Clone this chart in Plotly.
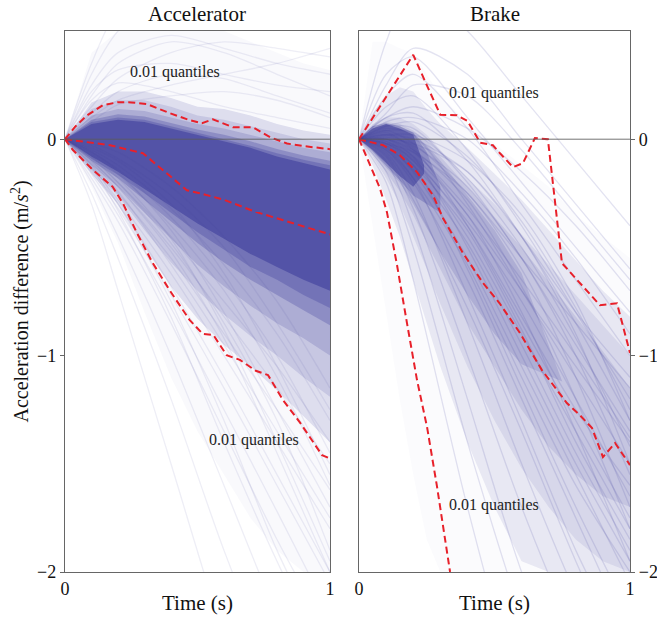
import plotly.graph_objects as go

FONT = "Liberation Serif"
BLUE = "70,70,160"
RED = "#e8202a"

# ---------------- red quantile / median curves -------------
ACC_HI_T = [0, 0.04, 0.083, 0.143, 0.2, 0.25, 0.31, 0.396, 0.47, 0.517, 0.558, 0.634, 0.709, 0.774, 0.838, 0.9, 1.0]
ACC_HI_Y = [0, 0.06, 0.11, 0.157, 0.171, 0.17, 0.162, 0.12, 0.088, 0.074, 0.092, 0.055, 0.055, 0.009, -0.02, -0.032, -0.046]
ACC_MED_T = [0, 0.057, 0.17, 0.294, 0.385, 0.46, 0.51, 0.6, 0.72, 0.85, 1.0]
ACC_MED_Y = [0, -0.009, -0.028, -0.065, -0.157, -0.236, -0.25, -0.28, -0.336, -0.383, -0.44]
ACC_LO_T = [0, 0.03, 0.106, 0.18, 0.22, 0.27, 0.33, 0.396, 0.47, 0.52, 0.56, 0.61, 0.66, 0.72, 0.766, 0.823, 0.887, 0.936, 0.97, 1.0]
ACC_LO_Y = [0, -0.05, -0.143, -0.22, -0.3, -0.43, -0.57, -0.70, -0.835, -0.9, -0.905, -0.998, -1.02, -1.07, -1.09, -1.206, -1.31, -1.40, -1.46, -1.475]

BRK_HI_T = [0, 0.2, 0.25, 0.3, 0.36, 0.4, 0.447, 0.494, 0.52, 0.568, 0.605, 0.649, 0.697, 0.749, 0.889, 0.952, 1.0]
BRK_HI_Y = [0, 0.39, 0.25, 0.113, 0.111, 0.085, -0.016, -0.028, -0.065, -0.129, -0.111, 0.005, 0.0, -0.573, -0.767, -0.758, -0.988]
BRK_MED_T = [0, 0.089, 0.151, 0.214, 0.273, 0.31, 0.384, 0.458, 0.518, 0.594, 0.675, 0.767, 0.815, 0.86, 0.9, 0.945, 1.0]
BRK_MED_Y = [0, -0.028, -0.074, -0.152, -0.259, -0.365, -0.527, -0.665, -0.757, -0.896, -1.067, -1.219, -1.275, -1.335, -1.469, -1.404, -1.506]
BRK_LO_T = [0, 0.04, 0.077, 0.103, 0.14, 0.177, 0.214, 0.251, 0.288, 0.336]
BRK_LO_Y = [0, -0.12, -0.226, -0.337, -0.58, -0.85, -1.113, -1.33, -1.607, -2.0]

# ---------------- density bands of the trajectory cloud (hi / lo envelopes) ----
ACC_T = [0, 0.1, 0.2, 0.3, 0.4, 0.5, 0.6, 0.7, 0.8, 0.9, 1.0]
ACC_BANDS = [  # (upper, lower, opacity)
    ([0, 0.40, 0.50, 0.50, 0.50, 0.50, 0.50, 0.45, 0.40, 0.35, 0.32],
     [0, -0.22, -0.48, -0.80, -1.10, -1.35, -1.55, -1.75, -1.90, -2.00, -2.00], 0.03),
    ([0, 0.17, 0.22, 0.22, 0.19, 0.15, 0.14, 0.11, 0.07, 0.04, 0.02],
     [0, -0.16, -0.30, -0.50, -0.68, -0.83, -0.95, -1.05, -1.16, -1.28, -1.40], 0.15),
    ([0, 0.14, 0.18, 0.18, 0.15, 0.11, 0.09, 0.06, 0.03, 0.00, -0.02],
     [0, -0.14, -0.26, -0.42, -0.57, -0.70, -0.81, -0.91, -1.00, -1.10, -1.19], 0.15),
    ([0, 0.11, 0.14, 0.13, 0.10, 0.07, 0.05, 0.02, -0.01, -0.04, -0.06],
     [0, -0.12, -0.22, -0.34, -0.46, -0.58, -0.68, -0.77, -0.85, -0.92, -1.00], 0.2),
    ([0, 0.09, 0.115, 0.105, 0.075, 0.045, 0.02, -0.01, -0.045, -0.075, -0.10],
     [0, -0.10, -0.18, -0.28, -0.38, -0.48, -0.57, -0.65, -0.72, -0.79, -0.86], 0.3),
    ([0, 0.08, 0.10, 0.09, 0.06, 0.03, 0.00, -0.03, -0.065, -0.095, -0.12],
     [0, -0.09, -0.165, -0.25, -0.34, -0.43, -0.51, -0.59, -0.65, -0.72, -0.78], 0.35),
    ([0, 0.07, 0.09, 0.08, 0.05, 0.02, -0.01, -0.04, -0.08, -0.11, -0.14],
     [0, -0.08, -0.15, -0.23, -0.31, -0.39, -0.46, -0.53, -0.59, -0.65, -0.70], 0.7),
]

BRK_BANDS = [  # (times, upper, lower, opacity)
    ([0, 0.05, 0.1, 0.15, 0.2, 0.25, 0.3, 0.4, 0.5, 0.6, 0.7, 0.8, 0.9, 1.0],
     [0, 0.45, 0.45, 0.42, 0.40, 0.30, 0.20, 0.08, -0.02, -0.12, -0.22, -0.35, -0.45, -0.55],
     [0, -0.40, -0.80, -1.20, -1.55, -1.85, -2.00, -2.00, -2.00, -2.00, -2.00, -2.00, -2.00, -2.00], 0.025),
    ([0, 0.05, 0.1, 0.15, 0.2, 0.25, 0.3, 0.4, 0.5, 0.6, 0.7, 0.8, 0.9, 1.0],
     [0, 0.12, 0.20, 0.24, 0.22, 0.14, 0.07, -0.04, -0.16, -0.28, -0.42, -0.56, -0.70, -0.82],
     [0, -0.12, -0.28, -0.45, -0.65, -0.85, -1.05, -1.40, -1.70, -1.95, -2.00, -2.00, -2.00, -2.00], 0.10),
    ([0, 0.05, 0.1, 0.15, 0.2, 0.25, 0.3, 0.4, 0.5, 0.6, 0.7, 0.8, 0.9, 1.0],
     [0, 0.07, 0.10, 0.10, 0.07, 0.02, -0.05, -0.18, -0.30, -0.44, -0.58, -0.72, -0.86, -1.00],
     [0, -0.08, -0.18, -0.30, -0.45, -0.60, -0.76, -1.05, -1.30, -1.52, -1.70, -1.85, -1.95, -2.00], 0.10),
    ([0, 0.05, 0.1, 0.15, 0.2, 0.25, 0.3, 0.4, 0.5, 0.6, 0.7, 0.8, 0.9, 1.0],
     [0, 0.06, 0.08, 0.07, 0.04, -0.01, -0.08, -0.22, -0.36, -0.50, -0.66, -0.82, -0.98, -1.15],
     [0, -0.07, -0.15, -0.24, -0.35, -0.48, -0.60, -0.85, -1.05, -1.25, -1.42, -1.55, -1.65, -1.70], 0.12),
    ([0, 0.05, 0.1, 0.15, 0.2, 0.25, 0.3, 0.4, 0.5, 0.6, 0.75],
     [0, 0.05, 0.07, 0.06, 0.03, -0.03, -0.10, -0.26, -0.42, -0.62, -1.12],
     [0, -0.06, -0.13, -0.20, -0.30, -0.41, -0.52, -0.72, -0.90, -1.04, -1.12], 0.18),
    ([0, 0.05, 0.1, 0.15, 0.2, 0.25, 0.3],
     [0, 0.06, 0.075, 0.06, 0.03, -0.06, -0.22],
     [0, -0.055, -0.12, -0.19, -0.26, -0.30, -0.34], 0.3),
    ([0, 0.05, 0.1, 0.15, 0.2, 0.24],
     [0, 0.05, 0.07, 0.05, 0.02, -0.12],
     [0, -0.05, -0.11, -0.17, -0.22, -0.16], 0.65),
]

# ---------------- individual sample trajectories -------------------------------
LINE_T = [0, 0.1, 0.2, 0.4, 0.6, 0.8, 1.0]
ACC_LINES = [
    [0, 0.30, 0.50, 0.70, 0.70, 0.60, 0.50],
    [0, 0.20, 0.35, 0.45, 0.40, 0.30, 0.20],
    [0, 0.15, 0.28, 0.40, 0.45, 0.42, 0.38],
    [0, 0.25, 0.40, 0.48, 0.42, 0.35, 0.30],
    [0, 0.12, 0.22, 0.30, 0.28, 0.20, 0.12],
    [0, 0.18, 0.26, 0.22, 0.15, 0.10, 0.05],
    [0, 0.10, 0.18, 0.25, 0.30, 0.35, 0.42],
    [0, 0.35, 0.60, 0.80, 0.80, 0.70, 0.60],
    [0, 0.08, 0.16, 0.20, 0.22, 0.18, 0.10],
    [0, 0.22, 0.32, 0.35, 0.30, 0.25, 0.22],
    [0, -0.20, -0.45, -1.00, -1.60, -2.20, -2.70],
    [0, -0.18, -0.38, -0.85, -1.35, -1.85, -2.30],
    [0, -0.15, -0.32, -0.72, -1.15, -1.60, -2.05],
    [0, -0.13, -0.28, -0.62, -1.00, -1.40, -1.80],
    [0, -0.12, -0.25, -0.55, -0.90, -1.25, -1.62],
    [0, -0.10, -0.22, -0.50, -0.82, -1.15, -1.50],
    [0, -0.25, -0.55, -1.20, -1.90, -2.50, -3.00],
    [0, -0.30, -0.70, -1.50, -2.30, -3.00, -3.50],
    [0, -0.08, -0.20, -0.45, -0.75, -1.05, -1.40],
    [0, -0.14, -0.30, -0.68, -1.10, -1.55, -2.00],
    [0, -0.16, -0.35, -0.78, -1.25, -1.72, -2.20],
    [0, -0.11, -0.24, -0.58, -0.95, -1.35, -1.75],
    [0, -0.09, -0.20, -0.48, -0.85, -1.30, -1.90],
    [0, -0.07, -0.16, -0.40, -0.70, -1.10, -1.60],
    [0, -0.10, -0.22, -0.52, -0.92, -1.45, -2.00],
    [0, -0.12, -0.30, -0.75, -1.30, -1.90, -2.40],
    [0, -0.06, -0.14, -0.36, -0.65, -1.00, -1.45],
    [0, -0.05, -0.12, -0.32, -0.58, -0.90, -1.30],
    [0, -0.08, -0.18, -0.46, -0.88, -1.40, -1.95],
    [0, -0.04, -0.10, -0.30, -0.62, -1.05, -1.55],
    [0, -0.06, -0.15, -0.42, -0.80, -1.25, -1.70],
    [0, -0.03, -0.09, -0.26, -0.50, -0.85, -1.25],
    [0, -0.13, -0.33, -0.82, -1.40, -1.95, -2.45],
    [0, -0.02, -0.06, -0.22, -0.45, -0.75, -1.15],
]
BRK_LINES = [
    [0, 0.45, 0.70, 0.50, 0.20, -0.10, -0.40],
    [0, 0.30, 0.38, 0.10, -0.20, -0.50, -0.80],
    [0, 0.20, 0.30, 0.05, -0.30, -0.65, -1.00],
    [0, 0.15, 0.20, -0.05, -0.40, -0.80, -1.20],
    [0, 0.10, 0.12, -0.10, -0.45, -0.85, -1.30],
    [0, 0.06, 0.05, -0.20, -0.55, -0.95, -1.35],
    [0, 0.05, 0.02, -0.30, -0.70, -1.10, -1.50],
    [0, 0.02, -0.04, -0.40, -0.85, -1.30, -1.75],
    [0, 0.00, -0.08, -0.50, -1.00, -1.50, -1.95],
    [0, -0.02, -0.12, -0.60, -1.15, -1.70, -2.20],
    [0, -0.04, -0.18, -0.72, -1.30, -1.90, -2.40],
    [0, -0.06, -0.25, -0.85, -1.50, -2.10, -2.60],
    [0, -0.08, -0.32, -1.00, -1.70, -2.30, -2.80],
    [0, -0.10, -0.40, -1.20, -2.00, -2.60, -3.00],
    [0, -0.15, -0.50, -1.40, -2.20, -2.80, -3.20],
    [0, -0.20, -0.65, -1.70, -2.60, -3.20, -3.60],
    [0, 0.08, 0.10, 0.00, -0.25, -0.55, -0.90],
    [0, 0.04, -0.02, -0.25, -0.55, -0.85, -1.15],
    [0, 0.03, -0.05, -0.35, -0.70, -1.05, -1.40],
    [0, -0.01, -0.10, -0.45, -0.90, -1.35, -1.80],
    [0, -0.03, -0.15, -0.55, -1.05, -1.55, -2.05],
    [0, -0.05, -0.20, -0.65, -1.20, -1.75, -2.30],
    [0, -0.07, -0.28, -0.78, -1.35, -1.95, -2.50],
    [0, 0.10, 0.15, 0.05, -0.15, -0.40, -0.70],
    [0, 0.12, 0.25, 0.20, -0.05, -0.35, -0.65],
    [0, 0.02, 0.00, -0.15, -0.45, -0.80, -1.10],
    [0, -0.02, -0.10, -0.38, -0.75, -1.20, -1.65],
    [0, 0.00, -0.06, -0.32, -0.65, -1.00, -1.38],
    [0, -0.04, -0.14, -0.48, -0.95, -1.45, -1.90],
    [0, 0.25, 0.42, 0.30, 0.00, -0.30, -0.60],
    [0, 0.00, -0.02, -0.15, -0.45, -0.90, -1.50],
    [0, 0.02, 0.02, -0.10, -0.35, -0.75, -1.30],
    [0, -0.02, -0.06, -0.25, -0.60, -1.10, -1.70],
    [0, 0.01, -0.03, -0.22, -0.55, -1.00, -1.55],
    [0, -0.01, -0.08, -0.35, -0.80, -1.35, -1.95],
    [0, -0.03, -0.12, -0.42, -0.88, -1.40, -1.85],
    [0, 0.04, 0.03, -0.18, -0.50, -0.92, -1.42],
    [0, -0.05, -0.18, -0.58, -1.10, -1.60, -2.00],
    [0, 0.06, 0.08, -0.08, -0.38, -0.78, -1.25],
    [0, -0.02, -0.09, -0.40, -0.82, -1.25, -1.60],
    [0, 0.00, -0.05, -0.28, -0.68, -1.20, -1.80],
]

fig = go.Figure()


def band(t, hi, lo, alpha, xa, ya):
    fig.add_trace(go.Scatter(
        x=list(t) + list(t)[::-1], y=list(hi) + list(lo)[::-1],
        fill="toself", fillcolor=f"rgba({BLUE},{alpha})", line=dict(width=0),
        mode="lines", hoverinfo="skip", showlegend=False, xaxis=xa, yaxis=ya))


def lines(rows, alpha, xa, ya):
    for r in rows:
        fig.add_trace(go.Scatter(
            x=LINE_T, y=r, mode="lines",
            line=dict(color=f"rgba({BLUE},{alpha})", width=1.3, shape="spline", smoothing=0.8),
            hoverinfo="skip", showlegend=False, xaxis=xa, yaxis=ya))


def red(t, y, xa, ya):
    fig.add_trace(go.Scatter(
        x=t, y=y, mode="lines", line=dict(color=RED, width=2, dash="7px,4px"),
        hoverinfo="skip", showlegend=False, xaxis=xa, yaxis=ya))


# Accelerator panel
for hi, lo, a in ACC_BANDS:
    band(ACC_T, hi, lo, a, "x", "y")
lines(ACC_LINES, 0.09, "x", "y")

# Brake panel
for t, hi, lo, a in BRK_BANDS:
    band(t, hi, lo, a, "x2", "y2")
lines(BRK_LINES, 0.15, "x2", "y2")

for xa, ya in (("x", "y"), ("x2", "y2")):
    fig.add_shape(type="line", xref=xa, yref=ya, x0=0, x1=1, y0=0, y1=0,
                  line=dict(color="rgba(90,90,90,0.85)", width=1), layer="above")

red(ACC_HI_T, ACC_HI_Y, "x", "y")
red(ACC_MED_T, ACC_MED_Y, "x", "y")
red(ACC_LO_T, ACC_LO_Y, "x", "y")
red(BRK_HI_T, BRK_HI_Y, "x2", "y2")
red(BRK_MED_T, BRK_MED_Y, "x2", "y2")
red(BRK_LO_T, BRK_LO_Y, "x2", "y2")

axis_common = dict(showline=True, mirror=True, linecolor="#666", linewidth=1.3,
                   showgrid=False, zeroline=False, automargin=False,
                   tickfont=dict(family=FONT, size=18, color="#111"))
xcommon = dict(axis_common, range=[0, 1], tickvals=[0, 1], ticktext=["0", "1"], ticks="")
ycommon = dict(axis_common, range=[-2, 0.5], tickvals=[0, -1, -2], ticktext=["0", "\u22121", "\u22122"],
               ticks="outside", ticklen=4, tickcolor="#666")

fig.update_layout(
    template="none",
    width=657, height=618,
    margin=dict(l=65, r=27, t=31, b=46, autoexpand=False),
    plot_bgcolor="white", paper_bgcolor="white",
    showlegend=False,
    xaxis=dict(xcommon, domain=[0, 0.469], anchor="y"),
    xaxis2=dict(xcommon, domain=[0.5204, 1], anchor="y2"),
    yaxis=dict(ycommon, anchor="x", side="left"),
    yaxis2=dict(ycommon, anchor="x2", side="right", ticklabelstandoff=0),
)

ann_font = dict(family=FONT, size=16, color="#222")
title_font = dict(family=FONT, size=21, color="#111")
lab_font = dict(family=FONT, size=21, color="#111")
ylab_font = dict(family=FONT, size=20, color="#111")
C = dict(xanchor="center", yanchor="middle", showarrow=False)
annotations = [
    dict(C, text="Accelerator", x=0.2345, y=1.0314, xref="paper", yref="paper", font=title_font),
    dict(C, text="Brake", x=0.7602, y=1.0314, xref="paper", yref="paper", font=title_font),
    dict(C, text="Time (s)", x=0.2345, y=-0.058, xref="paper", yref="paper", font=lab_font),
    dict(C, text="Time (s)", x=0.7602, y=-0.058, xref="paper", yref="paper", font=lab_font),
    dict(C, text="Acceleration difference (m/<i>s</i><sup>2</sup>)", x=-0.0796, y=0.5, xref="paper", yref="paper",
         textangle=-90, font=ylab_font),
    dict(C, text="0.01 quantiles", x=0.415, y=0.31, xref="x", yref="y", font=ann_font),
    dict(C, text="0.01 quantiles", x=0.713, y=-1.39, xref="x", yref="y", font=ann_font),
    dict(C, text="0.01 quantiles", x=0.498, y=0.212, xref="x2", yref="y2", font=ann_font),
    dict(C, text="0.01 quantiles", x=0.498, y=-1.69, xref="x2", yref="y2", font=ann_font),
]
fig.update_layout(annotations=annotations)

fig.write_html("out.html")
